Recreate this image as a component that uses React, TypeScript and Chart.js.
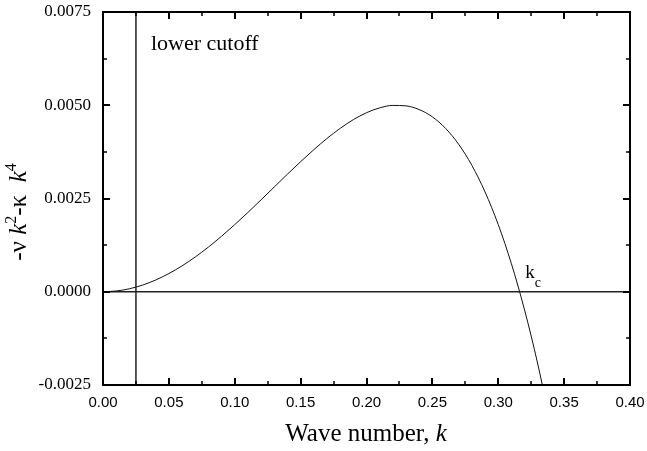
import React, { useEffect, useRef } from "react";
import { Chart, registerables } from "chart.js";

Chart.register(...registerables);

// Wave number k (x) and growth rate -ν k² - κ k⁴ (y)
const kValues = [
  0, 0.01, 0.02, 0.03, 0.04, 0.05, 0.06, 0.07, 0.08, 0.09, 0.1, 0.11, 0.12,
  0.13, 0.14, 0.15, 0.16, 0.17, 0.18, 0.19, 0.2, 0.21, 0.22, 0.23, 0.24, 0.25,
  0.26, 0.27, 0.28, 0.29, 0.3, 0.31, 0.32, 0.33, 0.34,
];
const growthValues = [
  0, 0.00002, 0.00008, 0.000178, 0.000315, 0.000488, 0.000694, 0.000932,
  0.001198, 0.001489, 0.0018, 0.002127, 0.002465, 0.002809, 0.003152, 0.003488,
  0.003809, 0.00411, 0.00438, 0.004614, 0.0048, 0.00493, 0.004995, 0.004983,
  0.004884, 0.004688, 0.00438, 0.003951, 0.003387, 0.002674, 0.0018, 0.00075,
  -0.000492, -0.001938, -0.003607,
];
const lowerCutoffK = 0.025;
const kcValue = 0.316;

const xMin = 0;
const xMax = 0.4;
const yMin = -0.0025;
const yMax = 0.0075;
const xMajorTicks = [0, 0.05, 0.1, 0.15, 0.2, 0.25, 0.3, 0.35, 0.4];
const xMinorTicks = [0.025, 0.075, 0.125, 0.175, 0.225, 0.275, 0.325, 0.375];
const yMajorTicks = [-0.0025, 0, 0.0025, 0.005, 0.0075];
const yMinorTicks = [-0.00125, 0.00125, 0.00375, 0.00625];

const xTitle = "Wave number, ";
const xTitleItalic = "k";
const cutoffLabel = "lower cutoff";

const SERIF = '"Liberation Serif", "Times New Roman", serif';
const SANS = '"Liberation Sans", Arial, sans-serif';

type Piece = { t: string; size: number; italic?: boolean; shift?: number };

function drawPieces(ctx: CanvasRenderingContext2D, pieces: Piece[], cx: number, baseY: number) {
  let total = 0;
  for (const p of pieces) {
    ctx.font = `${p.italic ? "italic " : ""}${p.size}px ${SERIF}`;
    total += ctx.measureText(p.t).width;
  }
  let x = cx - total / 2;
  ctx.textAlign = "left";
  ctx.textBaseline = "alphabetic";
  for (const p of pieces) {
    ctx.font = `${p.italic ? "italic " : ""}${p.size}px ${SERIF}`;
    ctx.fillText(p.t, x, baseY - (p.shift || 0));
    x += ctx.measureText(p.t).width;
  }
}

const framePlugin = {
  id: "framePlugin",
  afterDraw(chart: any) {
    const { ctx, chartArea } = chart;
    const xs = chart.scales.x;
    const ys = chart.scales.y;
    const { left, right, top, bottom } = chartArea;
    ctx.save();
    ctx.strokeStyle = "#000";
    ctx.fillStyle = "#000";
    // frame
    ctx.lineWidth = 2;
    ctx.strokeRect(left, top, right - left, bottom - top);
    // ticks
    const tickX = (vals: number[], len: number) => {
      for (const v of vals) {
        const px = Math.round(xs.getPixelForValue(v));
        ctx.beginPath();
        ctx.moveTo(px, bottom);
        ctx.lineTo(px, bottom - len);
        ctx.moveTo(px, top);
        ctx.lineTo(px, top + len);
        ctx.stroke();
      }
    };
    const tickY = (vals: number[], len: number) => {
      for (const v of vals) {
        const py = Math.round(ys.getPixelForValue(v));
        ctx.beginPath();
        ctx.moveTo(left, py);
        ctx.lineTo(left + len, py);
        ctx.moveTo(right, py);
        ctx.lineTo(right - len, py);
        ctx.stroke();
      }
    };
    ctx.lineWidth = 2;
    tickX(xMajorTicks, 7);
    tickY(yMajorTicks, 7);
    ctx.lineWidth = 1.5;
    tickX(xMinorTicks, 4);
    tickY(yMinorTicks, 4);

    // annotations
    ctx.textAlign = "left";
    ctx.textBaseline = "alphabetic";
    ctx.font = `22px ${SERIF}`;
    ctx.fillText(cutoffLabel, xs.getPixelForValue(lowerCutoffK) + 15, top + 38);

    const kcX = xs.getPixelForValue(kcValue) + 6;
    const zeroY = ys.getPixelForValue(0);
    ctx.font = `19px ${SERIF}`;
    ctx.fillText("k", kcX, zeroY - 14);
    const kw = ctx.measureText("k").width;
    ctx.font = `14px ${SERIF}`;
    ctx.fillText("c", kcX + kw, zeroY - 5);

    // x title
    drawPieces(
      ctx,
      [
        { t: xTitle, size: 25 },
        { t: xTitleItalic, size: 25, italic: true },
      ],
      366,
      441
    );

    // y title (rotated)
    ctx.save();
    ctx.translate(26, 212);
    ctx.rotate(-Math.PI / 2);
    drawPieces(
      ctx,
      [
        { t: "-\u03bd ", size: 25 },
        { t: "k", size: 25, italic: true },
        { t: "2", size: 16, shift: 10 },
        { t: "-\u03ba  ", size: 25 },
        { t: "k", size: 25, italic: true },
        { t: "4", size: 16, shift: 10 },
      ],
      0,
      0
    );
    ctx.restore();
    ctx.restore();
  },
};

export default function App() {
  const ref = useRef<HTMLCanvasElement>(null);
  useEffect(() => {
    if (!ref.current) return;
    const curve = kValues.map((k, i) => ({ x: k, y: growthValues[i] }));
    const chart = new Chart(ref.current, {
      type: "scatter",
      data: {
        datasets: [
          {
            data: curve,
            showLine: true,
            borderColor: "#111",
            borderWidth: 1,
            pointRadius: 0,
            cubicInterpolationMode: "monotone",
          } as any,
          {
            data: [
              { x: xMin, y: 0 },
              { x: xMax, y: 0 },
            ],
            showLine: true,
            borderColor: "#222",
            borderWidth: 1.5,
            pointRadius: 0,
          },
          {
            data: [
              { x: lowerCutoffK, y: yMin },
              { x: lowerCutoffK, y: yMax },
            ],
            showLine: true,
            borderColor: "#222",
            borderWidth: 1.5,
            pointRadius: 0,
          },
        ],
      },
      options: {
        animation: false,
        responsive: false,
        devicePixelRatio: 1,
        layout: { padding: { top: 12, right: 17, left: 0, bottom: 0 } },
        plugins: { legend: { display: false }, tooltip: { enabled: false } },
        scales: {
          x: {
            type: "linear",
            min: xMin,
            max: xMax,
            afterFit: (s: any) => {
              s.height = 66;
              s.paddingLeft = 0;
              s.paddingRight = 0;
              s.paddingTop = 0;
              s.paddingBottom = 0;
            },
            afterBuildTicks: (s: any) => {
              s.ticks = xMajorTicks.map((v) => ({ value: v }));
            },
            grid: { display: false, drawTicks: false },
            border: { display: false },
            ticks: {
              padding: 9,
              color: "#000",
              font: { family: SANS, size: 15 },
              maxRotation: 0,
              callback: (v: any) => Number(v).toFixed(2),
            },
          },
          y: {
            type: "linear",
            min: yMin,
            max: yMax,
            afterFit: (s: any) => {
              s.width = 103;
              s.paddingLeft = 0;
              s.paddingRight = 0;
              s.paddingTop = 0;
              s.paddingBottom = 0;
            },
            afterBuildTicks: (s: any) => {
              s.ticks = yMajorTicks.map((v) => ({ value: v }));
            },
            grid: { display: false, drawTicks: false },
            border: { display: false },
            ticks: {
              padding: 12,
              color: "#000",
              font: { family: SERIF, size: 17 },
              callback: (v: any) => Number(v).toFixed(4),
            },
          },
        },
      },
      plugins: [framePlugin],
    });
    return () => chart.destroy();
  }, []);
  return (
    <div style={{ position: "fixed", left: 0, top: 0, width: 647, height: 451, background: "#fff" }}>
      <canvas ref={ref} width={647} height={451} style={{ display: "block" }} />
    </div>
  );
}
